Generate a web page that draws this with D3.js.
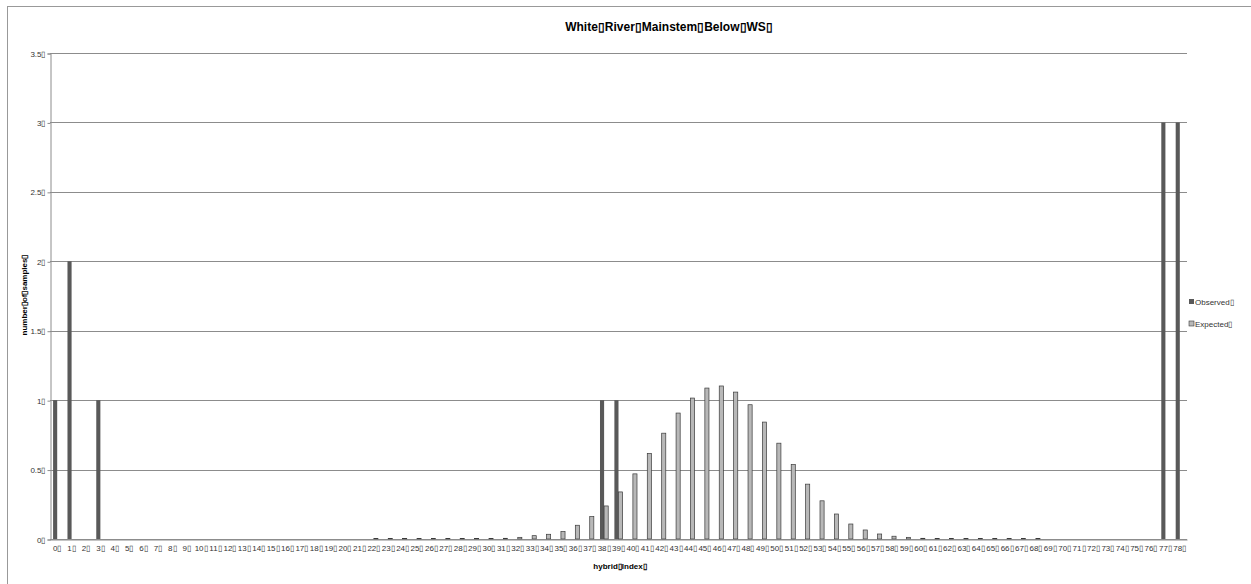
<!DOCTYPE html>
<html>
<head>
<meta charset="utf-8">
<script src="https://cdn.jsdelivr.net/npm/d3@7"></script>
<style>
body { margin: 0; background: #fff; }
text { font-family: "Liberation Sans Narrow", "Liberation Sans", Arial, sans-serif; }
</style>
</head>
<body>
<div id="chart"></div>
<script>
var B = "\u25AF";
var categories = d3.range(0, 79);
var observed = [];
var observedPairs = [[0, 1], [1, 2], [3, 1], [38, 1], [39, 1], [77, 3], [78, 3]];
// expected values for hybrid index 22..68
var expectedFrom = 22;
var expectedVals = [0.003, 0.003, 0.003, 0.003, 0.003, 0.003, 0.003, 0.003, 0.004, 0.005,
    0.012, 0.024, 0.034, 0.053, 0.099, 0.161, 0.238, 0.339, 0.469, 0.616,
    0.762, 0.907, 1.015, 1.087, 1.102, 1.058, 0.967, 0.842, 0.690, 0.536,
    0.395, 0.275, 0.180, 0.108, 0.065, 0.036, 0.020, 0.012, 0.005, 0.004,
    0.004, 0.004, 0.004, 0.004, 0.004, 0.004, 0.004];
var yTicks = [0, 0.5, 1, 1.5, 2, 2.5, 3, 3.5];
var seriesNames = ["Observed", "Expected"];

var obsMap = {};
observedPairs.forEach(function(p) { obsMap[p[0]] = p[1]; });
var data = categories.map(function(c) {
    var e = 0;
    if (c >= expectedFrom && c < expectedFrom + expectedVals.length) e = expectedVals[c - expectedFrom];
    return { cat: c, Observed: obsMap[c] || 0, Expected: e };
});

var width = 1251, height = 584;
var margin = { top: 53, right: 64, bottom: 45, left: 50 };

var svg = d3.select("#chart").append("svg")
    .attr("width", width)
    .attr("height", height);

// outer frame
svg.append("rect")
    .attr("x", 7.5).attr("y", 6.5)
    .attr("width", 1300).attr("height", 700)
    .attr("fill", "none")
    .attr("stroke", "#999");

var x = d3.scaleBand()
    .domain(categories)
    .range([margin.left, width - margin.right])
    .paddingInner(0)
    .paddingOuter(0);

var xInner = d3.scaleBand()
    .domain(seriesNames)
    .range([0, x.bandwidth()])
    .paddingOuter(0.75)
    .paddingInner(0);

var y = d3.scaleLinear()
    .domain([0, 3.5])
    .range([height - margin.bottom, margin.top]);

// gridlines
svg.append("g")
    .selectAll("line")
    .data(yTicks)
    .enter().append("line")
    .attr("x1", margin.left)
    .attr("x2", width - margin.right)
    .attr("y1", function(d) { return Math.round(y(d)) + 0.5; })
    .attr("y2", function(d) { return Math.round(y(d)) + 0.5; })
    .attr("stroke", "#8c8c8c");

// y axis
var yAxis = d3.axisLeft(y)
    .tickValues(yTicks)
    .tickSize(3)
    .tickPadding(2)
    .tickFormat(function(d) { return d + B; });

var gy = svg.append("g")
    .attr("transform", "translate(" + (margin.left + 0.5) + ",0.5)")
    .call(yAxis);
gy.selectAll("path, line").attr("stroke", "#8c8c8c");
gy.selectAll("text").attr("font-size", 8).attr("fill", "#333");

// bars
var groups = svg.append("g")
    .selectAll("g")
    .data(data)
    .enter().append("g")
    .attr("transform", function(d) { return "translate(" + x(d.cat) + ",0)"; });

groups.selectAll("rect")
    .data(function(d) { return seriesNames.map(function(k) { return { key: k, value: d[k] }; }); })
    .enter().append("rect")
    .filter(function(d) { return d.value > 0; })
    .attr("x", function(d) { return xInner(d.key); })
    .attr("width", xInner.bandwidth())
    .attr("y", function(d) { return y(d.value); })
    .attr("height", function(d) { return y(0) - y(d.value); })
    .attr("fill", function(d) { return d.key == "Observed" ? "#595959" : "#b8b8b8"; })
    .attr("stroke", function(d) { return d.key == "Observed" ? "none" : "#3a3a3a"; })
    .attr("stroke-width", 0.7);

// x axis
var xAxis = d3.axisBottom(x)
    .tickSize(0)
    .tickPadding(6)
    .tickFormat(function(d) { return d + B; });

var gx = svg.append("g")
    .attr("transform", "translate(0," + (Math.round(y(0)) + 0.5) + ")")
    .call(xAxis);
gx.select("path").attr("stroke", "#8c8c8c");
gx.selectAll("text").attr("font-size", 8).attr("fill", "#333");

// title
svg.append("text")
    .attr("x", 669)
    .attr("y", 31)
    .attr("text-anchor", "middle")
    .attr("font-size", 12)
    .attr("font-weight", "bold")
    .text("White" + B + "River" + B + "Mainstem" + B + "Below" + B + "WS" + B);

// axis titles
svg.append("text")
    .attr("x", 620)
    .attr("y", 569)
    .attr("text-anchor", "middle")
    .attr("font-size", 8)
    .attr("font-weight", "bold")
    .text("hybrid" + B + "Index" + B);

svg.append("text")
    .attr("transform", "translate(27,295) rotate(-90)")
    .attr("text-anchor", "middle")
    .attr("font-size", 8)
    .attr("font-weight", "bold")
    .text("number" + B + "of" + B + "samples" + B);

// legend
var legend = svg.append("g")
    .selectAll("g")
    .data(seriesNames)
    .enter().append("g")
    .attr("transform", function(d, i) { return "translate(1189," + (303 + i * 22) + ")"; });

legend.append("rect")
    .attr("x", 0).attr("y", -4)
    .attr("width", 5).attr("height", 5)
    .attr("fill", function(d) { return d == "Observed" ? "#595959" : "#b8b8b8"; })
    .attr("stroke", function(d) { return d == "Observed" ? "none" : "#3a3a3a"; })
    .attr("stroke-width", 0.6);

legend.append("text")
    .attr("x", 6)
    .attr("y", 1.5)
    .attr("font-size", 8)
    .attr("fill", "#333")
    .text(function(d) { return d + B; });
</script>
</body>
</html>
